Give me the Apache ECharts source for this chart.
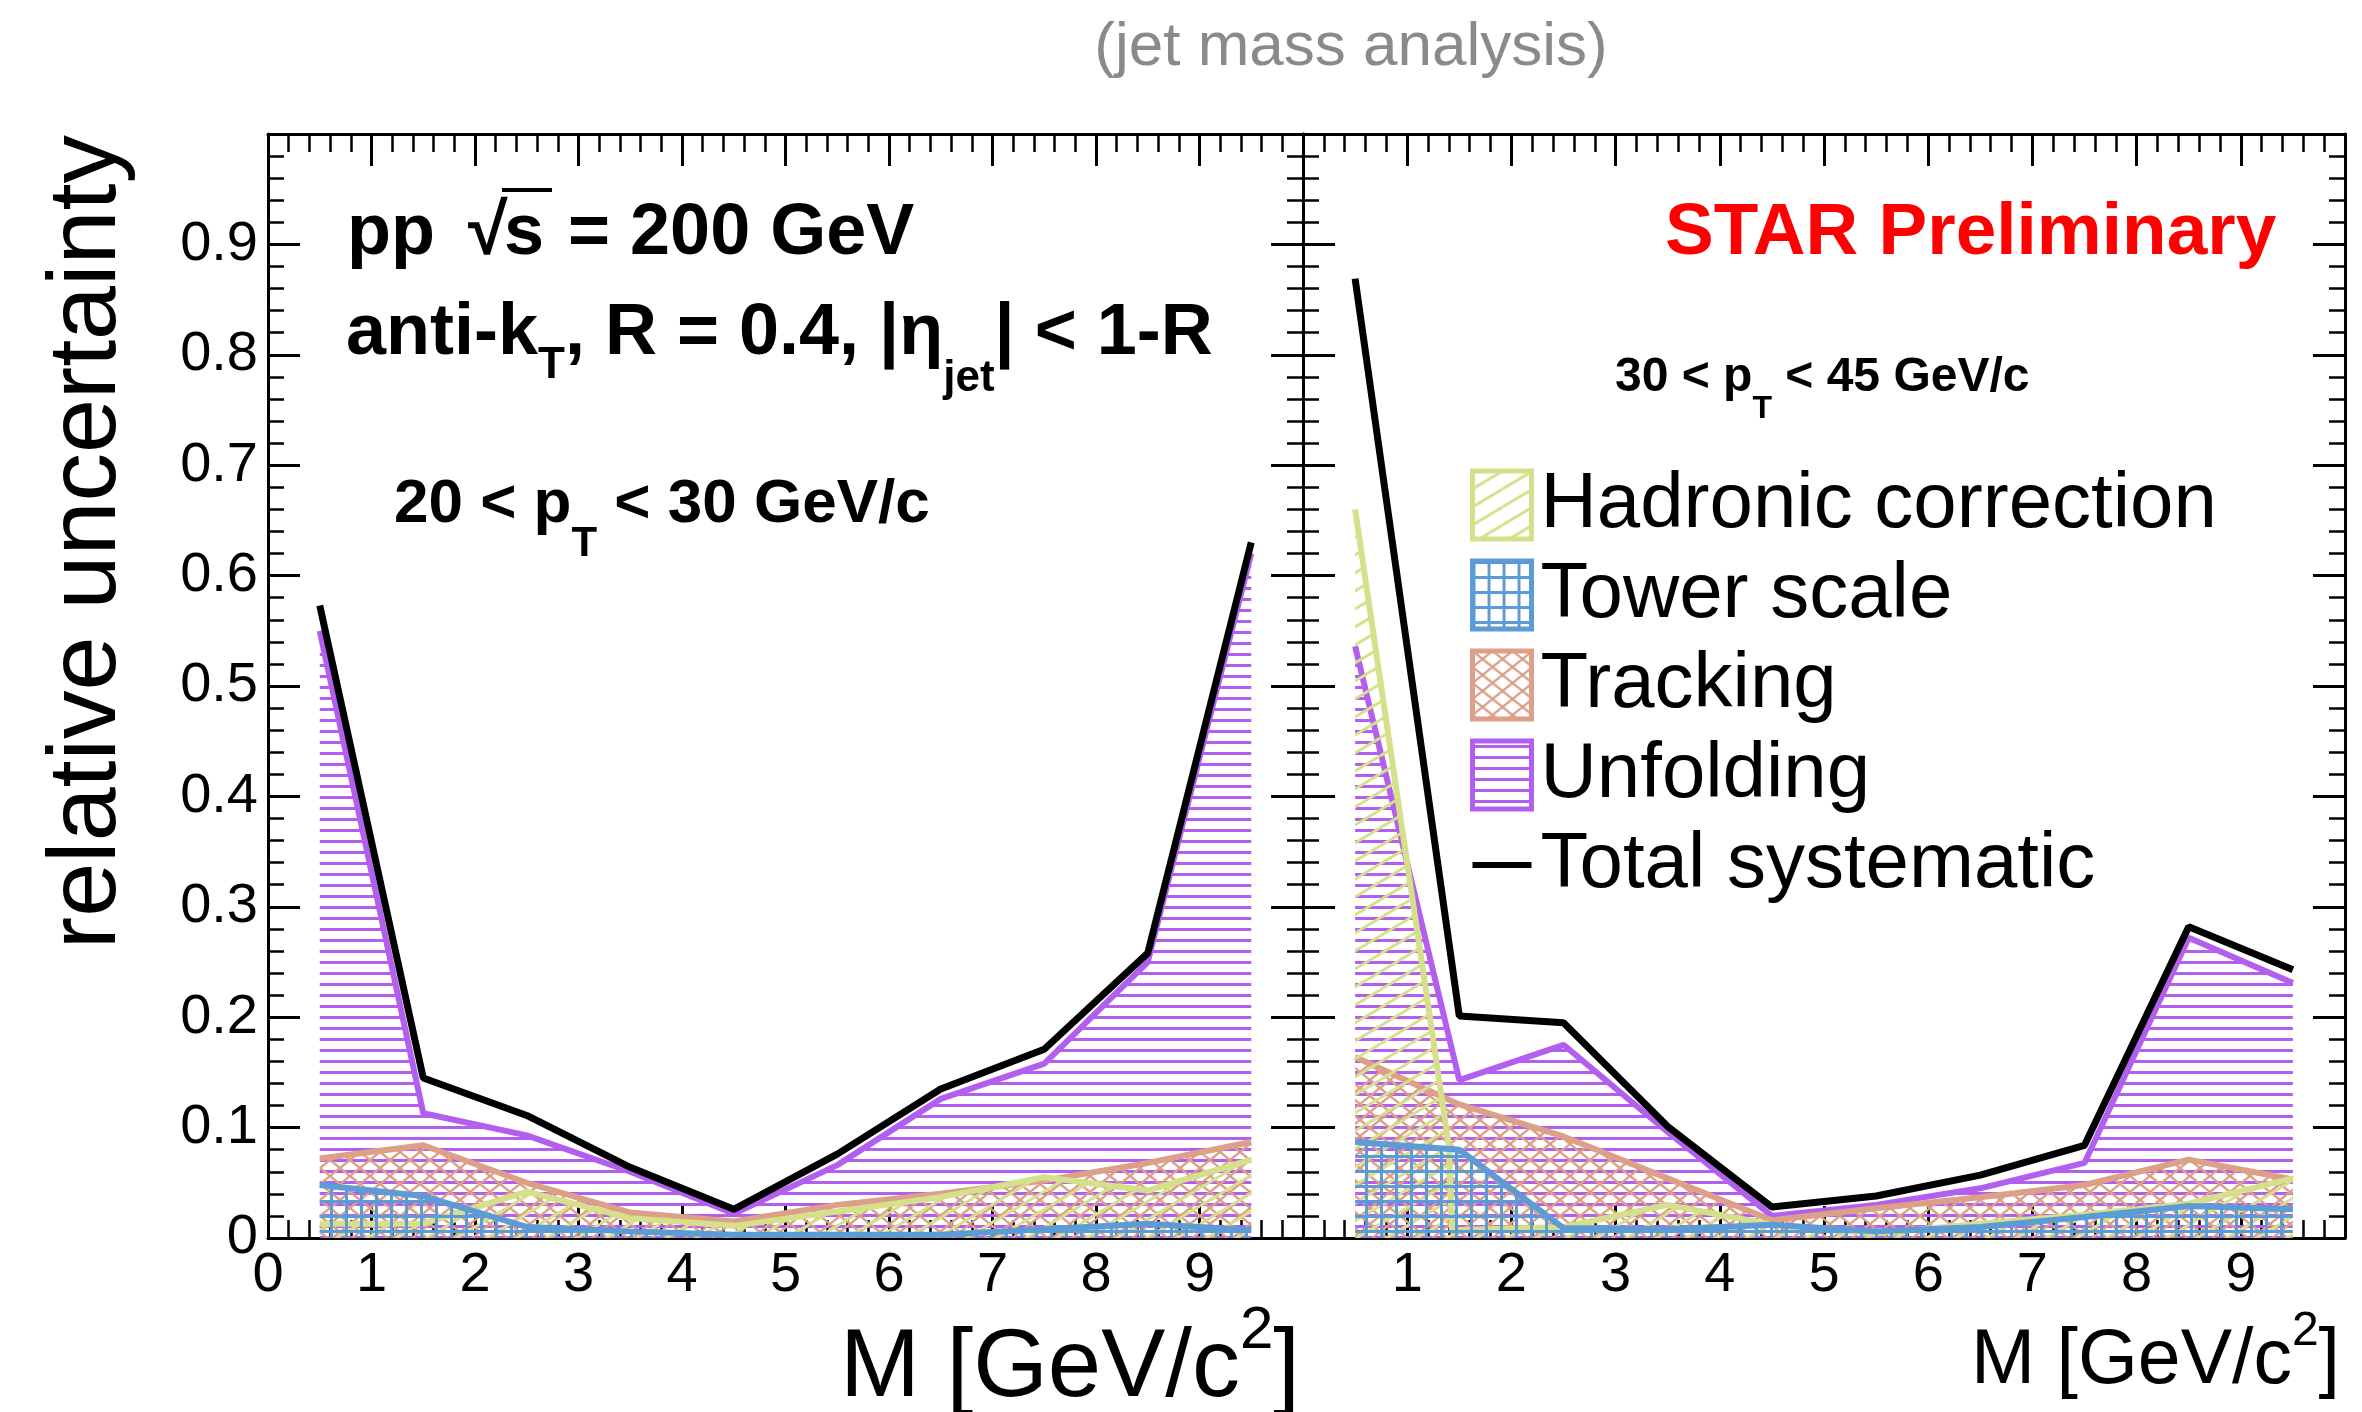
<!DOCTYPE html>
<html>
<head>
<meta charset="utf-8">
<script src="https://cdn.jsdelivr.net/npm/echarts@6/dist/echarts.min.js"></script>
<style>
  html, body { margin: 0; padding: 0; background: #fff; }
  #chart { width: 2362px; height: 1412px; }
</style>
</head>
<body>
<div id="chart"></div>
<script>
// bin centres of the jet mass histogram, M [GeV/c^2]
var massBins = [0.5, 1.5, 2.5, 3.5, 4.5, 5.5, 6.5, 7.5, 8.5, 9.5];

// 20 < pT < 30 GeV/c
var hadronicLow = [0.013, 0.013, 0.042, 0.018, 0.011, 0.024, 0.037, 0.055, 0.043, 0.071];
var towerLow    = [0.048, 0.038, 0.010, 0.006, 0.003, 0.003, 0.003, 0.008, 0.013, 0.007];
var trackingLow = [0.072, 0.084, 0.050, 0.023, 0.015, 0.030, 0.040, 0.052, 0.068, 0.087];
var unfoldLow   = [0.550, 0.113, 0.093, 0.060, 0.022, 0.066, 0.126, 0.158, 0.250, 0.620];
var totalLow    = [0.573, 0.145, 0.111, 0.064, 0.026, 0.076, 0.135, 0.171, 0.258, 0.630];

// 30 < pT < 45 GeV/c
var hadronicHighM = [0.5, 1.40, 1.43, 2.5, 3.5, 4.5, 5.5, 6.5, 7.5, 8.5, 9.5];
var hadronicHigh  = [0.660, 0.083, 0.007, 0.010, 0.030, 0.012, 0.004, 0.013, 0.021, 0.031, 0.054];
var towerHigh    = [0.087, 0.080, 0.009, 0.008, 0.012, 0.006, 0.010, 0.019, 0.029, 0.026];
var trackingHigh = [0.164, 0.121, 0.092, 0.054, 0.016, 0.027, 0.037, 0.048, 0.071, 0.053];
var unfoldHigh   = [0.536, 0.143, 0.175, 0.096, 0.020, 0.030, 0.045, 0.068, 0.272, 0.231];
var totalHigh    = [0.869, 0.201, 0.195, 0.101, 0.028, 0.038, 0.057, 0.084, 0.282, 0.243];

var legendNames = ['Hadronic correction', 'Tower scale', 'Tracking', 'Unfolding', 'Total systematic'];

var FONT = '"Liberation Sans", Arial, Helvetica, sans-serif';
var C_HAD = '#d6e08a', C_TOW = '#5b9bd6', C_TRK = '#dca088', C_UNF = '#b25ff0';

// hatch patterns like the ROOT fill styles
function hatch(kind, color) {
  var c = document.createElement('canvas');
  var ctx = c.getContext('2d');
  if (kind === 'horiz') {
    c.width = 12; c.height = 11;
    ctx.fillStyle = color;
    ctx.fillRect(0, 4, 12, 3);
  } else if (kind === 'diag') {
    c.width = 30; c.height = 18;
    ctx.strokeStyle = color;
    ctx.lineWidth = 2.8;
    for (var k = -1; k <= 1; k++) {
      ctx.beginPath(); ctx.moveTo(0, 18 + 18 * k); ctx.lineTo(30, 18 * k); ctx.stroke();
    }
  } else if (kind === 'cross') {
    c.width = 20; c.height = 16;
    ctx.strokeStyle = color;
    ctx.lineWidth = 2.4;
    for (var j = -1; j <= 1; j++) {
      ctx.beginPath(); ctx.moveTo(0, 16 + 16 * j); ctx.lineTo(20, 16 * j); ctx.stroke();
      ctx.beginPath(); ctx.moveTo(0, 16 * j); ctx.lineTo(20, 16 + 16 * j); ctx.stroke();
    }
  } else {
    c.width = 15; c.height = 15;
    ctx.fillStyle = color;
    ctx.fillRect(0, 0, 3, 15);
    ctx.fillRect(0, 0, 15, 3);
  }
  return { image: c, repeat: 'repeat' };
}

var patterns = {
  'Hadronic correction': hatch('diag', C_HAD),
  'Tower scale': hatch('grid', C_TOW),
  'Tracking': hatch('cross', C_TRK),
  'Unfolding': hatch('horiz', C_UNF)
};
var colors = {
  'Hadronic correction': C_HAD, 'Tower scale': C_TOW, 'Tracking': C_TRK,
  'Unfolding': C_UNF, 'Total systematic': '#000'
};

function pairs(xs, ys) {
  return xs.map(function (x, i) { return [x, ys[i]]; });
}

function band(name, xs, ys, panel, z) {
  return {
    name: name, type: 'line', xAxisIndex: panel * 2, yAxisIndex: panel * 2,
    data: pairs(xs, ys), symbol: 'none', z: z,
    lineStyle: { color: colors[name], width: 6 },
    itemStyle: { color: colors[name] },
    areaStyle: { color: patterns[name], opacity: 1 }
  };
}

function total(ys, panel) {
  return {
    name: 'Total systematic', type: 'line', xAxisIndex: panel * 2, yAxisIndex: panel * 2,
    data: pairs(massBins, ys), symbol: 'none', z: 10,
    lineStyle: { color: '#000', width: 7 },
    itemStyle: { color: '#000' }
  };
}

var grids = [
  { left: 268, top: 134, width: 1035, height: 1104 },
  { left: 1303, top: 134, width: 1042, height: 1104 }
];

function xAxis(grid, pos, labels) {
  return {
    type: 'value', gridIndex: grid, position: pos, min: 0, max: 10, interval: 1,
    axisLine: { show: true, onZero: false, lineStyle: { color: '#000', width: 3 } },
    axisTick: { show: true, inside: true, length: 32, lineStyle: { color: '#000', width: 3 } },
    minorTick: { show: true, splitNumber: 5, length: 18, lineStyle: { color: '#000', width: 2.5 } },
    splitLine: { show: false },
    axisLabel: {
      show: labels, margin: 10, color: '#000', fontFamily: FONT, fontSize: 56,
      formatter: function (v) {
        if (v === 10 || (grid === 1 && v === 0)) return '';
        return String(v);
      }
    }
  };
}

function yAxis(grid, pos, labels) {
  return {
    type: 'value', gridIndex: grid, position: pos, min: 0, max: 1, interval: 0.1,
    axisLine: { show: true, onZero: false, lineStyle: { color: '#000', width: 3 } },
    axisTick: { show: true, inside: true, length: 32, lineStyle: { color: '#000', width: 3 } },
    minorTick: { show: true, splitNumber: 5, length: 16, lineStyle: { color: '#000', width: 2.5 } },
    splitLine: { show: false },
    axisLabel: {
      show: labels, margin: 10, color: '#000', fontFamily: FONT, fontSize: 56,
      formatter: function (v) {
        if (v >= 0.999) return '';
        if (v === 0) return '0';
        return v.toFixed(1);
      }
    }
  };
}

// rich text pieces; a padded token is shifted by half its padding
function tok(size, weight, pad) {
  return { fontFamily: FONT, fontWeight: weight, fill: '#000', fontSize: size,
           lineHeight: size, padding: pad || [0, 0, 0, 0] };
}

function label(x, y, text, rich, align) {
  return { type: 'text', x: x, y: y, style: {
    text: text, rich: rich,
    align: align || 'left', textAlign: align || 'left',
    verticalAlign: 'middle', textVerticalAlign: 'middle' } };
}

function plain(x, y, text, font, fill) {
  return { type: 'text', x: x, y: y, style: {
    text: text, font: font, fill: fill || '#000',
    align: 'left', textAlign: 'left', verticalAlign: 'middle', textVerticalAlign: 'middle' } };
}

var B72 = 'bold 72px ' + FONT;

var graphics = [
  { type: 'text', x: 1351, y: 48, style: {
      text: '(jet mass analysis)', font: '62px ' + FONT, fill: '#8a8a8a',
      align: 'center', textAlign: 'center', verticalAlign: 'middle', textVerticalAlign: 'middle' } },
  { type: 'text', x: 137, y: 135, rotation: Math.PI / 2, style: {
      text: 'relative uncertainty', font: '97px ' + FONT, fill: '#000',
      align: 'right', textAlign: 'right', verticalAlign: 'bottom', textVerticalAlign: 'bottom' } },
  plain(347, 234, 'pp', B72),
  plain(468, 234, '\u221a', B72),
  plain(504, 234, 's', B72),
  plain(568, 234, '= 200 GeV', B72),
  { type: 'rect', shape: { x: 502, y: 188, width: 50, height: 4 }, style: { fill: '#000' } },
  label(346, 334, '{m|anti-k}{t|T}{m|, R = 0.4, |\u03b7}{j|jet}{m|| < 1-R}', {
      m: tok(72, 'bold'), t: tok(44, 'bold', [64, 0, 0, 0]), j: tok(44, 'bold', [90, 0, 0, 0]) }),
  label(394, 505, '{m|20 < p}{t|T}{m| < 30 GeV/c}', {
      m: tok(62, 'bold'), t: tok(42, 'bold', [78, 0, 0, 0]) }),
  plain(1665, 234, 'STAR Preliminary', 'bold 73px ' + FONT, '#ff0000'),
  label(1615, 378, '{m|30 < p}{t|T}{m| < 45 GeV/c}', {
      m: tok(48, 'bold'), t: tok(32, 'bold', [63, 0, 0, 0]) }),
  label(1300, 1370, '{m|M [GeV/c}{s|2}{m|]}', {
      m: tok(96, 'normal'), s: tok(60, 'normal', [0, 0, 77, 0]) }, 'right'),
  label(2340, 1362, '{m|M [GeV/c}{s|2}{m|]}', {
      m: tok(77, 'normal'), s: tok(48, 'normal', [0, 0, 61, 0]) }, 'right')
];

var legendData = legendNames.map(function (n) {
  if (n === 'Total systematic') {
    return { name: n, icon: 'path://M0,0h0.01v0.01h-0.01z M0,31h60v6h-60z M0,68h0.01v0.01h-0.01z',
             itemStyle: { color: '#000', borderWidth: 0 } };
  }
  return { name: n, icon: 'rect',
           itemStyle: { color: patterns[n], borderColor: colors[n], borderWidth: 5 } };
});

var option = {
  animation: false,
  backgroundColor: '#fff',
  grid: grids,
  xAxis: [xAxis(0, 'bottom', true), xAxis(0, 'top', false), xAxis(1, 'bottom', true), xAxis(1, 'top', false)],
  yAxis: [yAxis(0, 'left', true), yAxis(0, 'right', false), yAxis(1, 'left', false), yAxis(1, 'right', false)],
  legend: {
    orient: 'vertical', left: 1470, top: 466, padding: 0,
    itemWidth: 59, itemHeight: 68, itemGap: 12,
    selectedMode: false,
    data: legendData,
    textStyle: { fontFamily: FONT, fontSize: 78, color: '#000', padding: [0, 0, 0, 4] }
  },
  series: [
    band('Unfolding', massBins, unfoldLow, 0, 2),
    band('Tracking', massBins, trackingLow, 0, 3),
    band('Hadronic correction', massBins, hadronicLow, 0, 4),
    band('Tower scale', massBins, towerLow, 0, 5),
    total(totalLow, 0),
    band('Unfolding', massBins, unfoldHigh, 1, 2),
    band('Tracking', massBins, trackingHigh, 1, 3),
    band('Hadronic correction', hadronicHighM, hadronicHigh, 1, 4),
    band('Tower scale', massBins, towerHigh, 1, 5),
    total(totalHigh, 1)
  ],
  graphic: { elements: graphics }
};

var chart = echarts.init(document.getElementById('chart'), null, { renderer: 'canvas' });
chart.setOption(option);
</script>
</body>
</html>
